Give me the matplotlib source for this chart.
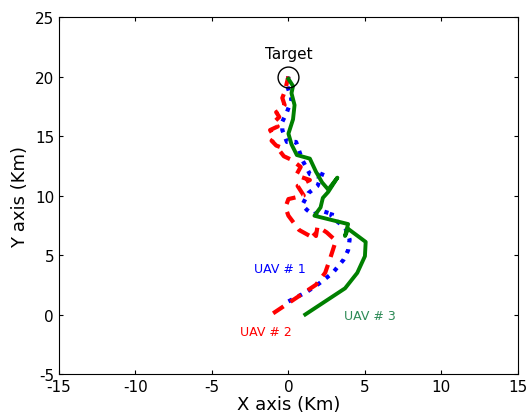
import numpy as np
from matplotlib import pyplot as plt

plt.rcParams['axes.unicode_minus'] = False

# trajectories (km)
uav1_x = [0.0, 0.6, 1.2, 2.0, 2.9, 3.6, 3.9, 4.0, 3.8, 3.5, 3.1, 2.8, 2.9, 2.7, 2.2, 1.6,
          1.2, 0.9, 1.3, 1.9, 2.3, 1.9, 1.4, 0.9, 0.5, 0.3, -0.1, -0.4, -0.4, -0.1, 0.1, 0.2, -0.1, 0.0]
uav1_y = [1.1, 1.5, 1.9, 2.6, 3.5, 4.6, 5.4, 6.3, 7.1, 7.5, 7.9, 8.3, 8.7, 8.5, 8.7, 8.4,
          8.8, 9.2, 10.2, 10.8, 12.1, 11.6, 11.8, 13.0, 14.5, 14.5, 14.5, 15.5, 16.2, 17.0, 17.7, 18.1, 19.3, 20.0]
uav2_x = [-1.0, 0.4, 1.8, 2.4, 2.7, 2.9, 3.1, 2.5, 1.9, 1.8, 1.5, 1.4, 0.7, 0.0, -0.2, 0.0,
          1.0, 0.6, 1.4, 0.5, 0.8, 0.2, -0.3, -0.6, -0.4, -0.8, -1.1, -0.9, -1.2, -0.7, -1.0,
          -0.6, -0.8, -0.4, -0.25, -0.4, -0.25, 0.0]
uav2_y = [0.1, 1.3, 2.5, 3.5, 4.6, 5.4, 6.2, 6.9, 7.4, 6.6, 7.0, 6.6, 7.1, 8.3, 9.0, 9.7,
          10.0, 10.8, 11.3, 11.7, 12.4, 13.0, 13.3, 13.8, 14.0, 14.2, 14.6, 14.9, 15.5, 15.8, 16.1,
          16.6, 17.0, 17.3, 17.6, 18.2, 18.7, 20.0]
uav3_x = [1.1, 2.4, 3.7, 4.5, 5.0, 5.05, 3.9, 3.7, 3.9, 1.7, 2.1, 2.25, 2.6, 3.2, 2.6,
          2.2, 1.8, 1.4, 0.55, 0.2, 0.0, 0.3, 0.4, 0.2, 0.3, 0.0]
uav3_y = [0.0, 1.1, 2.2, 3.5, 4.9, 6.1, 7.2, 6.6, 7.6, 8.3, 9.0, 9.8, 10.3, 11.5, 10.5,
          11.1, 12.0, 13.1, 13.4, 14.3, 15.2, 16.4, 17.6, 18.6, 19.2, 19.8]
target = (0.0, 20.0)

labels = ['UAV # 1', 'UAV # 2', 'UAV # 3']
label_pos = [(-0.55, 3.9), (-1.5, -1.4), (5.3, -0.1)]

fig = plt.figure(figsize=(5.29, 4.14), dpi=100)
ax = fig.add_axes([0.1115, 0.0942, 0.8675, 0.8623])

ax.plot(uav1_x, uav1_y, color='b', linestyle=':', linewidth=3)
ax.plot(uav2_x, uav2_y, color='r', linestyle='--', linewidth=3, dashes=(3, 2))
ax.plot(uav3_x, uav3_y, color='g', linestyle='-', linewidth=2.8)
ax.plot(target[0], target[1], 'o', markersize=15, markerfacecolor='none',
        markeredgecolor='k', markeredgewidth=1)
ax.text(target[0], 21.9, 'Target', ha='center', va='center', fontsize=11)

colors = ['b', 'r', '#2e8b57']
for lab, (tx, ty), c in zip(labels, label_pos, colors):
    ax.text(tx, ty, lab, color=c, ha='center', va='center', fontsize=9)

ax.set_xlim(-15, 15)
ax.set_ylim(-5, 25)
ax.set_xticks(np.arange(-15, 16, 5))
ax.set_yticks(np.arange(-5, 26, 5))
ax.tick_params(direction='in', top=True, right=True, labelsize=11, length=3)
ax.set_xlabel('X axis (Km)', fontsize=13, labelpad=1)
ax.set_ylabel('Y axis (Km)', fontsize=13, labelpad=4)

fig.savefig('out.png', dpi=100)
